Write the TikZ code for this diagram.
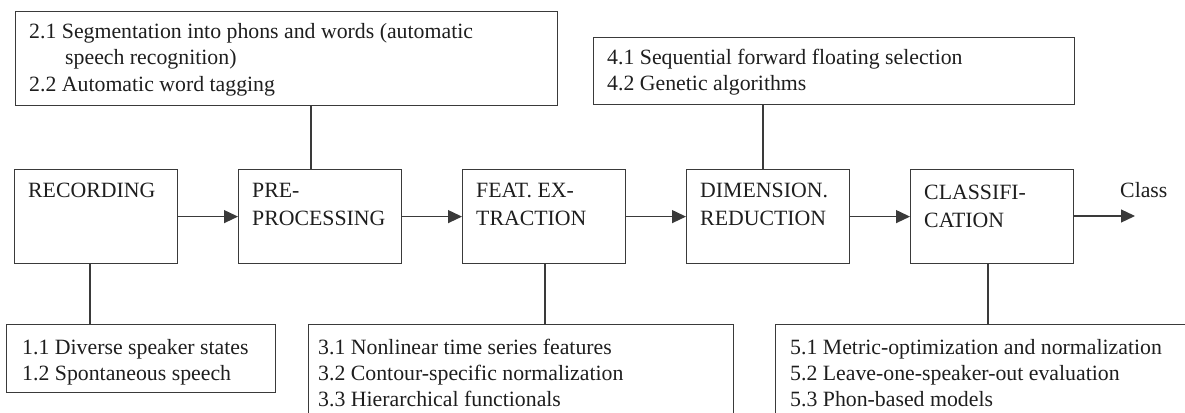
\documentclass[tikz,border=0pt]{standalone}
\usepackage{fontspec}
\setmainfont{Liberation Serif}
\usetikzlibrary{arrows.meta}
\definecolor{ln}{HTML}{3A3A3A}
\definecolor{tx}{HTML}{1E1E1E}
\begin{document}
\begin{tikzpicture}[x=1pt,y=-1pt,
  box/.style={draw=ln,line width=1.2pt,inner sep=0pt,anchor=north west},
  stage/.style={box,minimum width=163pt,minimum height=94pt},
  txt/.style={text=tx,inner sep=0pt,anchor=base west,font=\fontsize{21.8}{26}\selectfont},
  flow/.style={draw=ln,line width=1.2pt,-{Triangle[length=14pt,width=13pt]}},
  link/.style={draw=ln,line width=1.2pt}]
\clip (0,0) rectangle (1185,412);

% main stages
\node[stage] (rec) at (14,169) {};
\node[stage] (pre) at (238,169) {};
\node[stage] (fea) at (462,169) {};
\node[stage] (dim) at (686,169) {};
\node[stage] (cla) at (910,169) {};
\coordinate (out) at (1135,216);

\node[txt] (recA) at (28,197) {RECORDING};
\node[txt] (preA) at (252,197) {PRE-};
\node[txt] (preB) at (252,225) {PROCESSING};
\node[txt] (feaA) at (476,197) {FEAT. EX-};
\node[txt] (feaB) at (476,225) {TRACTION};
\node[txt] (dimA) at (700,197) {DIMENSION.};
\node[txt] (dimB) at (700,225) {REDUCTION};
\node[txt] (claA) at (924,199) {CLASSIFI-};
\node[txt] (claB) at (924,227) {CATION};
\node[txt] (cls) at (1120,197) {Class};

\draw[flow] (rec) -- (pre);
\draw[flow] (pre) -- (fea);
\draw[flow] (fea) -- (dim);
\draw[flow] (dim) -- (cla);
\draw[flow] (cla.east |- out) -- (out);

% upper boxes
\node[box,minimum width=542pt,minimum height=94pt] (b2) at (15,11) {};
\node[txt] (b2a) at (29,38.5) {2.1 Segmentation into phons and words (automatic};
\node[txt] (b2b) at (65,65) {speech recognition)};
\node[txt] (b2c) at (29,91.5) {2.2 Automatic word tagging};

\node[box,minimum width=481pt,minimum height=67pt] (b4) at (593,37) {};
\node[txt] (b4a) at (607,64) {4.1 Sequential forward floating selection};
\node[txt] (b4b) at (607,90.5) {4.2 Genetic algorithms};

% lower boxes
\node[box,minimum width=269pt,minimum height=68pt] (b1) at (6,324) {};
\node[txt] (b1a) at (22,354) {1.1 Diverse speaker states};
\node[txt] (b1b) at (22,380) {1.2 Spontaneous speech};

\node[box,minimum width=425pt,minimum height=110pt] (b3) at (308,324) {};
\node[txt] (b3a) at (318,354) {3.1 Nonlinear time series features};
\node[txt] (b3b) at (318,380) {3.2 Contour-specific normalization};
\node[txt] (b3c) at (318,406) {3.3 Hierarchical functionals};

\node[box,minimum width=440pt,minimum height=110pt] (b5) at (775,324) {};
\node[txt] (b5a) at (790,354) {5.1 Metric-optimization and normalization};
\node[txt] (b5b) at (790,380) {5.2 Leave-one-speaker-out evaluation};
\node[txt] (b5c) at (790,406) {5.3 Phon-based models};

% connectors
\coordinate (x2) at (311,0);
\coordinate (x4) at (763,0);
\coordinate (x1) at (90,0);
\coordinate (x3) at (545,0);
\coordinate (x5) at (988,0);
\draw[link] (b2.south -| x2) -- (pre.north -| x2);
\draw[link] (b4.south -| x4) -- (dim.north -| x4);
\draw[link] (rec.south -| x1) -- (b1.north -| x1);
\draw[link] (fea.south -| x3) -- (b3.north -| x3);
\draw[link] (cla.south -| x5) -- (b5.north -| x5);
\end{tikzpicture}
\end{document}
